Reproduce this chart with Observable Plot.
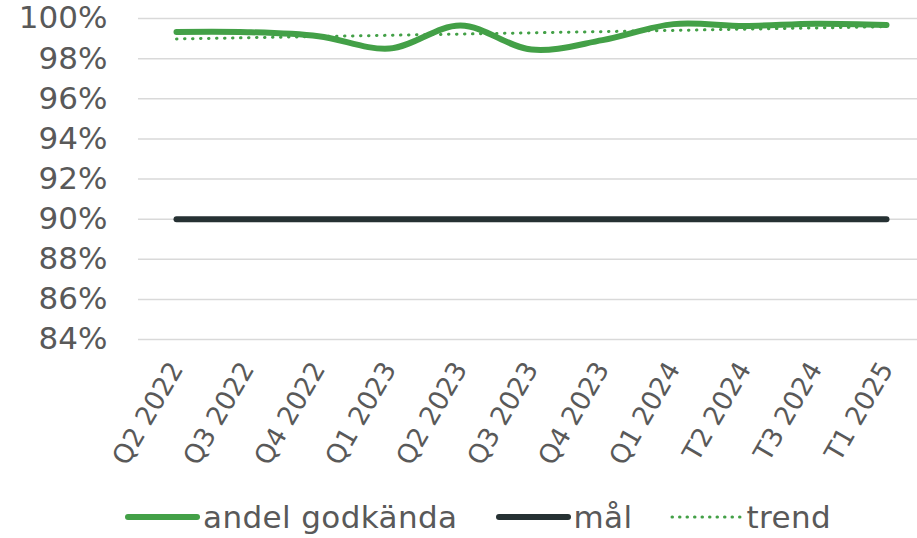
<!DOCTYPE html>
<html>
<head>
<meta charset="utf-8">
<script src="https://cdn.jsdelivr.net/npm/d3@7"></script>
<script src="https://cdn.jsdelivr.net/npm/@observablehq/plot@0.6"></script>
<style>
  html, body { margin: 0; padding: 0; background: #fff; }
  body { width: 917px; height: 538px; overflow: hidden; font-family: "DejaVu Sans", Verdana, sans-serif; }
  #legend { height: 43px; display: flex; align-items: center; padding-left: 125px; color: #595959; font-size: 31px; letter-spacing: 0.4px; }
  #legend .item { display: flex; align-items: center; }
  #legend svg { display: block; }
</style>
</head>
<body>
<div id="chart"></div>
<div id="legend"></div>
<script>
const categories = ["Q2 2022","Q3 2022","Q4 2022","Q1 2023","Q2 2023","Q3 2023","Q4 2023","Q1 2024","T2 2024","T3 2024","T1 2025"];
const andelGodkanda = [99.33, 99.32, 99.12, 98.50, 99.65, 98.45, 98.92, 99.72, 99.63, 99.74, 99.68];
const mal = [90, 90, 90, 90, 90, 90, 90, 90, 90, 90, 90];
const trendCategories = ["Q2 2022", "T1 2025"];
const trendValues = [98.98, 99.59];
const yTicks = [84, 86, 88, 90, 92, 94, 96, 98, 100];

const GREEN = "#43a047";
const DARK = "#263133";
const TEXT = "#595959";

const andelData = categories.map((c, i) => ({c, v: andelGodkanda[i]}));
const malData = categories.map((c, i) => ({c, v: mal[i]}));
const trendData = trendCategories.map((c, i) => ({c, v: trendValues[i]}));

const chart = Plot.plot({
  width: 917,
  height: 495,
  marginLeft: 138,
  marginRight: 0,
  marginTop: 18,
  marginBottom: 156,
  style: {fontFamily: "DejaVu Sans, Verdana, sans-serif", color: TEXT, background: "#fff"},
  x: {type: "point", domain: categories, range: [173, 888], padding: 0},
  y: {domain: [84, 100]},
  marks: [
    Plot.ruleY(yTicks, {stroke: "#d9d9d9", strokeWidth: 1.5}),
    Plot.axisY({ticks: yTicks, tickSize: 0, tickPadding: 31, tickFormat: d => d + "%", fontSize: 31, fill: TEXT, label: null, style: {letterSpacing: "0.4px"}}),
    Plot.axisX({tickSize: 0, tickPadding: 25, tickRotate: -60, fontSize: 26.5, fill: TEXT, label: null}),
    Plot.line(malData, {x: "c", y: "v", stroke: DARK, strokeWidth: 6, strokeLinecap: "round"}),
    Plot.line(trendData, {x: "c", y: "v", stroke: GREEN, strokeWidth: 3, strokeDasharray: "0.5,7.5", strokeLinecap: "round"}),
    Plot.line(andelData, {x: "c", y: "v", stroke: GREEN, strokeWidth: 6, strokeLinecap: "round", curve: "catmull-rom"})
  ]
});
document.getElementById("chart").appendChild(chart);

const legendItems = [
  {label: "andel godkända", color: GREEN, dash: null, width: 6, gapAfter: 38},
  {label: "mål", color: DARK, dash: null, width: 6, gapAfter: 36},
  {label: "trend", color: GREEN, dash: "0.5,7", width: 3, gapAfter: 0}
];
const legend = d3.select("#legend");
for (const it of legendItems) {
  const item = legend.append("div").attr("class", "item").style("margin-right", it.gapAfter + "px");
  const s = item.append("svg").attr("width", 78).attr("height", 12);
  s.append("line").attr("x1", 3).attr("x2", 72).attr("y1", 6).attr("y2", 6)
    .attr("stroke", it.color).attr("stroke-width", it.width).attr("stroke-linecap", "round")
    .attr("stroke-dasharray", it.dash);
  item.append("span").text(it.label);
}
</script>
</body>
</html>
